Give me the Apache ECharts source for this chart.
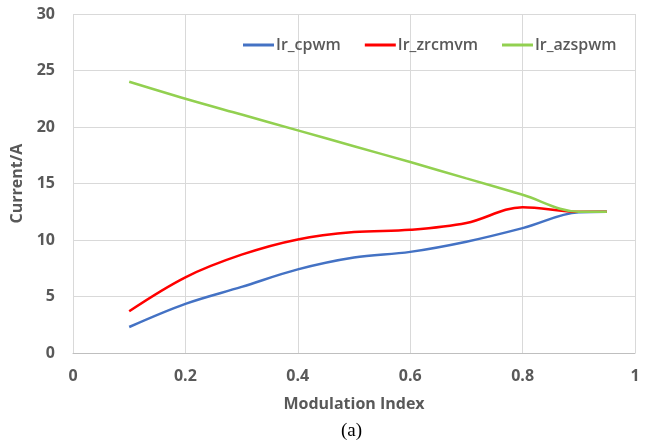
<!DOCTYPE html>
<html>
<head>
<meta charset="utf-8">
<script src="https://cdn.jsdelivr.net/npm/echarts@6/dist/echarts.min.js"></script>
<style>
  html, body { margin: 0; padding: 0; background: #ffffff; }
  #chart { width: 652px; height: 445px; }
</style>
</head>
<body>
<div id="chart"></div>
<script>
// Modulation index sample points
const modIndex = [0.1, 0.2, 0.3, 0.4, 0.5, 0.6, 0.7, 0.8, 0.9, 0.95];

// Current (A) for each modulation strategy
const irCpwm   = [2.3, 4.35, 5.85, 7.4, 8.45, 8.95, 9.85, 11.05, 12.45, 12.5];
const irZrcmvm = [3.7, 6.7, 8.7, 10.05, 10.7, 10.9, 11.5, 12.9, 12.5, 12.5];
const irAzspwm = [24.0, 22.5, 21.1, 19.7, 18.3, 16.9, 15.45, 14.0, 12.5, 12.5];

const seriesNames = ['Ir_cpwm', 'Ir_zrcmvm', 'Ir_azspwm'];
const seriesData = [irCpwm, irZrcmvm, irAzspwm];
const seriesColors = ['#4472C4', '#FF0000', '#92D050'];

const pairs = (ys) => modIndex.map((x, i) => [x, ys[i]]);

const labelFont = {
  color: '#595959',
  fontFamily: 'Open Sans',
  fontWeight: 'bold',
  fontSize: 16
};

const chart = echarts.init(document.getElementById('chart'));
chart.setOption({
  animation: false,
  backgroundColor: '#ffffff',
  grid: { left: 73, top: 14, width: 562, height: 339, containLabel: false },
  legend: {
    top: 32,
    left: 238,
    itemWidth: 31,
    itemHeight: 3,
    itemGap: 24,
    icon: 'rect',
    textStyle: Object.assign({}, labelFont, { fontWeight: 600, padding: [0, 0, 0, -3] }),
    data: seriesNames
  },
  xAxis: {
    type: 'value',
    min: 0,
    max: 1,
    interval: 0.2,
    name: 'Modulation Index',
    nameLocation: 'middle',
    nameGap: 43,
    nameTextStyle: labelFont,
    axisLine: { show: true, lineStyle: { color: '#BFBFBF', width: 1 } },
    axisTick: { show: false },
    axisLabel: Object.assign({}, labelFont, { margin: 15, formatter: (v) => String(Math.round(v * 10) / 10) }),
    splitLine: { show: true, lineStyle: { color: '#D9D9D9', width: 1 } }
  },
  yAxis: {
    type: 'value',
    min: 0,
    max: 30,
    interval: 5,
    name: 'Current/A',
    nameLocation: 'middle',
    nameGap: 40,
    nameTextStyle: labelFont,
    axisLine: { show: false },
    axisTick: { show: false },
    axisLabel: Object.assign({}, labelFont, { margin: 18 }),
    splitLine: { show: true, lineStyle: { color: '#D9D9D9', width: 1 } }
  },
  graphic: [{
    type: 'text',
    left: 341,
    top: 422,
    style: {
      text: '(a)',
      fill: '#000000',
      font: '19px "Liberation Serif", "DejaVu Serif", serif'
    }
  }],
  series: seriesNames.map((name, i) => ({
    name: name,
    type: 'line',
    data: pairs(seriesData[i]),
    smooth: 0.35,
    showSymbol: false,
    symbol: 'none',
    lineStyle: { color: seriesColors[i], width: 2.5 },
    itemStyle: { color: seriesColors[i] }
  }))
});
</script>
</body>
</html>
